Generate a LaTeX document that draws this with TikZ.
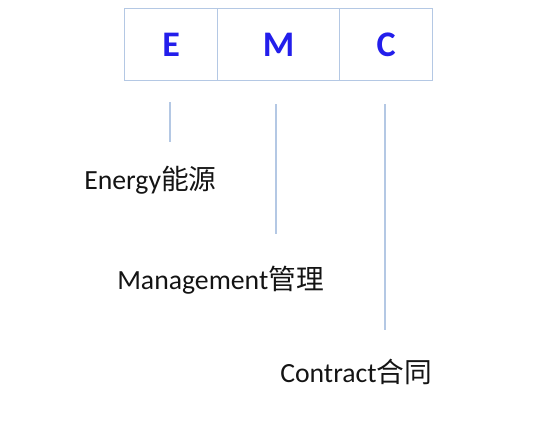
\documentclass[tikz,border=0pt]{standalone}
\usepackage{fontspec}
\setmainfont{Carlito}
\newfontfamily\cjk{Noto Sans CJK SC}
\usetikzlibrary{positioning}
\definecolor{framecolor}{RGB}{180,200,228}
\definecolor{lettercolor}{RGB}{35,30,235}
\definecolor{labelcolor}{RGB}{20,20,20}

\begin{document}
\begin{tikzpicture}[x=0.75pt,y=-0.75pt]
  \tikzset{
    cell/.style={
      draw=framecolor,
      line width=1pt,
      minimum height=54pt,
      inner sep=0pt,
      anchor=north west,
      font=\fontsize{27}{30}\selectfont\bfseries,
      text=lettercolor
    },
    tick/.style={draw=framecolor, line width=1pt},
    word/.style={font=\fontsize{20.8}{24}\selectfont, text=labelcolor, inner sep=0pt}
  }
  \useasboundingbox (0,0) rectangle (550,430);

  % Letter cells
  \node[cell, minimum width=69.75pt] (E) at (124,8) {E};
  \node[cell, minimum width=91.5pt] (M) at (217,8) {M};
  \node[cell, minimum width=69.75pt] (C) at (339,8) {C};

  % Energy
  \coordinate (e1) at (170,102);
  \coordinate (e2) at (170,142);
  \draw[tick] (e1) -- (e2);
  \node[word, anchor=west] (energy) at (84,180) {Energy{\cjk 能源}};

  % Management
  \coordinate (m1) at (276,104);
  \coordinate (m2) at (276,234);
  \draw[tick] (m1) -- (m2);
  \node[word, anchor=west] (management) at (117,280) {Management{\cjk 管理}};

  % Contract
  \coordinate (c1) at (385,104);
  \coordinate (c2) at (385,330);
  \draw[tick] (c1) -- (c2);
  \node[word, anchor=west] (contract) at (280,372) {Contract{\cjk 合同}};
\end{tikzpicture}
\end{document}
